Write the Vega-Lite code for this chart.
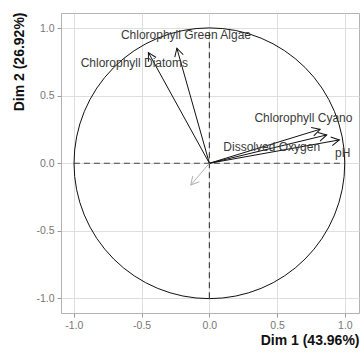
{
  "$schema": "https://vega.github.io/schema/vega-lite/v6.json",
  "width": 298,
  "height": 300,
  "autosize": {"type": "none"},
  "padding": {"left": 61, "top": 13, "right": 2, "bottom": 43},
  "background": "white",
  "config": {
    "font": "Liberation Sans",
    "view": {"stroke": "#b3b3b3", "strokeWidth": 1},
    "axis": {
      "labelFont": "Liberation Sans",
      "titleFont": "Liberation Sans",
      "labelFontSize": 10.5,
      "labelColor": "#777777",
      "titleFontSize": 14,
      "titleFontWeight": "bold",
      "titleColor": "#111111",
      "domain": false,
      "tickColor": "#999999",
      "tickSize": 4,
      "labelPadding": 3
    }
  },
  "datasets": {
    "arrows": [
      {"name": "Chlorophyll Diatoms", "x": -0.45, "y": 0.82, "type": "active"},
      {"name": "Chlorophyll Green Algae", "x": -0.24, "y": 0.852, "type": "active"},
      {"name": "Chlorophyll Cyano", "x": 0.817, "y": 0.252, "type": "active"},
      {"name": "Dissolved Oxygen", "x": 0.866, "y": 0.21, "type": "active"},
      {"name": "pH", "x": 0.959, "y": 0.173, "type": "active"},
      {"name": "other", "x": -0.137, "y": -0.161, "type": "supplementary"}
    ],
    "labels": [
      {"label": "Chlorophyll Green Algae", "x": -0.173, "y": 0.95},
      {"label": "Chlorophyll Diatoms", "x": -0.554, "y": 0.745},
      {"label": "Chlorophyll Cyano", "x": 0.694, "y": 0.333},
      {"label": "Dissolved Oxygen", "x": 0.46, "y": 0.123},
      {"label": "pH", "x": 0.984, "y": 0.079}
    ],
    "guides": [
      {"x": -1, "x2": 1, "y": 0, "y2": 0},
      {"x": 0, "x2": 0, "y": -1, "y2": 1}
    ],
    "origin": [{"x": 0, "y": 0}]
  },
  "layer": [
    {
      "data": {"name": "guides"},
      "mark": {"type": "rule", "strokeDash": [6, 4], "strokeWidth": 1.2, "color": "#444444"},
      "encoding": {
        "x": {
          "field": "x", "type": "quantitative",
          "scale": {"domain": [-1.095, 1.104], "nice": false, "zero": false},
          "axis": {
            "values": [-1, -0.75, -0.5, -0.25, 0, 0.25, 0.5, 0.75, 1],
            "labelExpr": "abs(datum.value % 0.5) < 0.001 ? replace(format(datum.value, '.1f'), '\u2212', '-') : ''",
            "tickOpacity": {"condition": {"test": "abs(datum.value % 0.5) < 0.001", "value": 1}, "value": 0},
            "gridColor": {"condition": {"test": "abs(datum.value % 0.5) < 0.001", "value": "#dedede"}, "value": "#eeeeee"},
            "title": "Dim 1 (43.96%)",
            "titleX": 298,
            "titleY": 27,
            "titleAlign": "right",
            "titleBaseline": "middle"
          }
        },
        "x2": {"field": "x2"},
        "y": {
          "field": "y", "type": "quantitative",
          "scale": {"domain": [-1.109, 1.113], "nice": false, "zero": false},
          "axis": {
            "values": [-1, -0.75, -0.5, -0.25, 0, 0.25, 0.5, 0.75, 1],
            "labelExpr": "abs(datum.value % 0.5) < 0.001 ? replace(format(datum.value, '.1f'), '\u2212', '-') : ''",
            "tickOpacity": {"condition": {"test": "abs(datum.value % 0.5) < 0.001", "value": 1}, "value": 0},
            "gridColor": {"condition": {"test": "abs(datum.value % 0.5) < 0.001", "value": "#dedede"}, "value": "#eeeeee"},
            "title": "Dim 2 (26.92%)",
            "titleX": -42,
            "titleY": -1,
            "titleAngle": -90,
            "titleAlign": "right",
            "titleBaseline": "middle"
          }
        },
        "y2": {"field": "y2"}
      }
    },
    {
      "data": {"name": "origin"},
      "mark": {"type": "point", "shape": "circle", "filled": false, "size": 73300, "stroke": "#111111", "strokeWidth": 1, "opacity": 1},
      "encoding": {
        "x": {"field": "x", "type": "quantitative"},
        "y": {"field": "y", "type": "quantitative"}
      }
    },
    {
      "data": {"name": "arrows"},
      "transform": [
        {"calculate": "0", "as": "x0"},
        {"calculate": "0", "as": "y0"}
      ],
      "mark": {"type": "rule", "strokeWidth": 1},
      "encoding": {
        "x": {"field": "x0", "type": "quantitative"},
        "y": {"field": "y0", "type": "quantitative"},
        "x2": {"field": "x"},
        "y2": {"field": "y"},
        "color": {"field": "type", "type": "nominal", "scale": {"domain": ["active", "supplementary"], "range": ["#111111", "#b0b0b0"]}, "legend": null}
      }
    },
    {
      "data": {"name": "arrows"},
      "transform": [
        {"calculate": "atan2(datum.x, datum.y) * 180 / PI", "as": "ang"}
      ],
      "mark": {"type": "point", "shape": "M-0.55,1L0,0L0.55,1", "filled": false, "size": 256, "strokeWidth": 1, "opacity": 1},
      "encoding": {
        "x": {"field": "x", "type": "quantitative"},
        "y": {"field": "y", "type": "quantitative"},
        "angle": {"field": "ang", "type": "quantitative", "scale": null},
        "color": {"field": "type", "type": "nominal", "scale": {"domain": ["active", "supplementary"], "range": ["#111111", "#b0b0b0"]}, "legend": null}
      }
    },
    {
      "data": {"name": "labels"},
      "mark": {"type": "text", "font": "Liberation Sans", "fontSize": 12, "color": "#3a3a3a", "align": "center", "baseline": "middle"},
      "encoding": {
        "x": {"field": "x", "type": "quantitative"},
        "y": {"field": "y", "type": "quantitative"},
        "text": {"field": "label"}
      }
    }
  ]
}
